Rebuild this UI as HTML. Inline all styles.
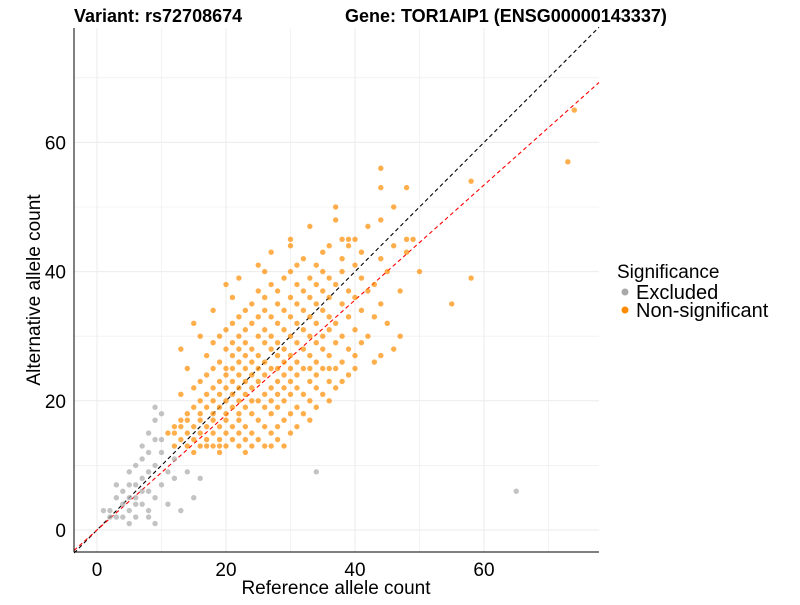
<!DOCTYPE html>
<html><head><meta charset="utf-8"><style>
body{margin:0;background:#fff;}
svg{font-family:"Liberation Sans",sans-serif;}
</style></head><body>
<svg id="chart" width="800" height="600">
<text x="74" y="22" font-size="18" font-weight="bold">Variant: rs72708674</text>
<text x="345" y="22" font-size="18" font-weight="bold">Gene: TOR1AIP1 (ENSG00000143337)</text>
<g id="grid"></g>
<g id="lines"></g>
<g id="pts"></g>
<g id="axes"></g>
<text x="336" y="594" font-size="19" text-anchor="middle">Reference allele count</text>
<text transform="translate(40,290) rotate(-90)" font-size="19" text-anchor="middle">Alternative allele count</text>
<g>
<text x="617" y="278" font-size="19">Significance</text>
<circle cx="625" cy="292" r="3.5" fill="#A9A9A9"/>
<text x="636" y="299" font-size="20">Excluded</text>
<circle cx="625" cy="310" r="3.5" fill="#FF8C00"/>
<text x="636" y="317" font-size="20">Non-significant</text>
</g>
</svg>
<script>
const xTicks=[0,20,40,60];
const yTicks=[0,20,40,60];
const excludedRef=[1,2,3,3,4,4,5,5,5,5,6,6,6,6,7,7,7,7,8,8,8,8,8,9,9,9,9,9,9,10,10,10,11,11,12,12,13,14,15,16,34,65,2,4,6,7,3,10,8,5];
const excludedAlt=[3,2,5,7,4,6,1,3,5,9,2,5,7,10,4,8,11,13,3,6,9,12,15,1,5,10,14,17,19,7,12,18,4,9,8,11,3,9,5,8,9,6,3,2,4,6,2,14,2,7];
const nonsigRows=[
[12,[15,19,23]],
[13,[12,14,16,17,18,19,20,22,24,26,27,29]],
[14,[13,15,17,19,21,23,25,28]],
[15,[11,12,14,16,18,20,22,24,27,30]],
[16,[12,13,15,17,19,21,23,26,28,31]],
[17,[13,14,16,18,20,22,25,29,33]],
[18,[14,16,18,20,22,24,27,30,32]],
[19,[15,17,19,21,23,26,28,31,34]],
[20,[16,18,20,22,24,25,27,29,33,36]],
[21,[13,17,19,21,23,26,28,30,32,35]],
[22,[15,18,20,22,24,27,29,31,34,37]],
[23,[16,19,21,23,25,28,30,33,36,38]],
[24,[17,20,22,24,26,29,31,34,39]],
[25,[14,18,20,21,23,25,27,28,30,32,33,35,36,37,40]],
[26,[19,22,24,26,29,31,34,38,43]],
[27,[17,21,23,25,28,30,33,36,40,44]],
[28,[13,20,22,24,27,29,32,35,39,46]],
[29,[18,21,23,26,28,31,34,37,41]],
[30,[16,19,22,25,27,30,33,35,38,42,47]],
[31,[20,23,26,29,32,36,40]],
[32,[15,21,24,28,31,34,37,45]],
[33,[22,25,27,30,33,36,39,43]],
[34,[18,23,26,29,32,35,41]],
[35,[24,28,31,34,38,44,55]],
[36,[21,26,30,33,36,40]],
[37,[25,28,32,35,39,42,47]],
[38,[20,27,31,34,37,43]],
[39,[22,29,33,36,41,58]],
[40,[26,30,35,38,45,50]],
[41,[25,31,34,40]],
[42,[32,38,44]],
[43,[27,35,41,48]],
[44,[30,36,39,46]],
[45,[30,38,39,40,48,49]],
[47,[33,42]],
[48,[37,44]],
[50,[37,46]],
[53,[44,48]],
[54,[58]],
[56,[44]],
[57,[73]],
[65,[74]]];
const refLineSlope=[1,0.89];
const NS="http://www.w3.org/2000/svg";
const L=74,R=599,T=28,B=552;
const xs=v=>97+v*6.45, ys=v=>530-v*6.46;
const xInv=p=>(p-97)/6.45;
function mk(tag,attrs,parent){const e=document.createElementNS(NS,tag);for(const k in attrs)e.setAttribute(k,attrs[k]);parent.appendChild(e);return e;}
const grid=document.getElementById('grid');
for(let v=-10;v<=80;v+=10){const x=xs(v);if(x>L&&x<R){const g=mk('line',{x1:x,x2:x,y1:T,y2:B,stroke:'#ebebeb','stroke-width':v%20===0?1:0.6},grid);

}
const y=ys(v);if(y>T&&y<B){const g=mk('line',{x1:L,x2:R,y1:y,y2:y,stroke:'#ebebeb','stroke-width':v%20===0?1:0.6},grid);

}}
const lines=document.getElementById('lines');
const cols=['#000','#ff0000'];
refLineSlope.forEach((s,i)=>{const x0=xInv(L),x1=xInv(R);
const ln=mk('line',{x1:xs(x0),y1:ys(x0*s),x2:xs(x1),y2:ys(x1*s),stroke:cols[i],'stroke-width':1.1,'stroke-dasharray':'4,3'},lines);

});
const pts=document.getElementById('pts');
excludedRef.forEach((r,i)=>{const c=mk('circle',{cx:xs(r),cy:ys(excludedAlt[i]),r:2.7,fill:'#A9A9A9','fill-opacity':0.7},pts);

});
nonsigRows.forEach(([a,rs])=>rs.forEach(r=>{const c=mk('circle',{cx:xs(r),cy:ys(a),r:2.7,fill:'#FF8C00','fill-opacity':0.7},pts);

}));
const ax=document.getElementById('axes');
const xa=mk('line',{x1:L,x2:R,y1:B,y2:B,stroke:'#000','stroke-width':1},ax);


const ya=mk('line',{x1:L,x2:L,y1:T,y2:B,stroke:'#000','stroke-width':1},ax);


xTicks.forEach(v=>{const t=mk('text',{x:xs(v),y:576,'font-size':19,'text-anchor':'middle',fill:'#000'},ax);t.textContent=v;

});
yTicks.forEach(v=>{const t=mk('text',{x:66,y:ys(v)+7,'font-size':19,'text-anchor':'end',fill:'#000'},ax);t.textContent=v;

});
</script>
</body></html>
